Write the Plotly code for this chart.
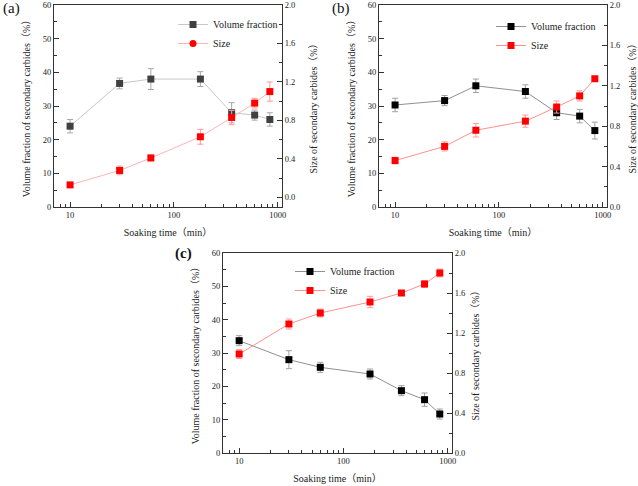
import math
import plotly.graph_objects as go

# ---------------- data ----------------
soak_time = [10, 30, 60, 180, 360, 600, 840]

vf_a = [24.0, 36.7, 38.0, 38.0, 28.0, 27.3, 26.0]
vf_a_err = [2.0, 1.6, 3.1, 2.2, 3.0, 1.5, 2.0]
size_a = [0.13, 0.28, 0.41, 0.63, 0.83, 0.98, 1.10]
size_a_err = [0.0, 0.045, 0.03, 0.077, 0.074, 0.05, 0.10]

vf_b = [30.3, 31.6, 36.0, 34.3, 28.0, 27.0, 22.7]
vf_b_err = [2.0, 1.5, 2.0, 2.0, 2.0, 2.0, 2.5]
size_b = [0.46, 0.60, 0.76, 0.85, 0.99, 1.10, 1.27]
size_b_err = [0.033, 0.045, 0.067, 0.06, 0.06, 0.05, 0.02]

vf_c = [33.7, 28.0, 25.7, 23.7, 18.7, 16.0, 11.7]
vf_c_err = [1.5, 2.7, 1.5, 1.5, 1.5, 2.0, 1.5]
size_c = [0.99, 1.29, 1.40, 1.51, 1.60, 1.69, 1.80]
size_c_err = [0.045, 0.05, 0.04, 0.057, 0.023, 0.033, 0.04]

panel_labels = ["(a)", "(b)", "(c)"]
legend_names = ["Volume fraction", "Size"]
x_title = "Soaking time（min）"
y_left_title = "Volume fraction of secondary carbides（%）"
y_right_title = "Size of secondary carbides（%）"

W, H = 638, 486
FONT = "Liberation Serif, Times New Roman, Noto Sans CJK SC, serif"


def fx(px):
    return px / W


def fy(py):
    return 1 - py / H


# panel geometry in pixels: (left, right, top, bottom)
panels = [
    dict(box=(54, 282, 5, 207), xa="x", ya="y", ya2="y2", legend="legend",
         vf=vf_a, vfe=vf_a_err, sz=size_a, sze=size_a_err, rr=[-0.1, 2.0],
         vf_mc="#404040", vf_lc="#c8c8c8", vf_ec="#a8a8a8",
         sz_mc="#ff0000", sz_lc="#ffb4b4", sz_ec="#ff9a9a", leg_sym="circle",
         leg=(173, 10), rstand=14),
    dict(box=(379, 607, 5, 207), xa="x2", ya="y3", ya2="y4", legend="legend2",
         vf=vf_b, vfe=vf_b_err, sz=size_b, sze=size_b_err, rr=[0, 2.0],
         vf_mc="#000000", vf_lc="#909090", vf_ec="#a0a0a0",
         sz_mc="#ff0000", sz_lc="#ff9090", sz_ec="#ff9a9a", leg_sym="square",
         leg=(491, 12), rstand=10),
    dict(box=(223, 452, 253, 453), xa="x3", ya="y5", ya2="y6", legend="legend3",
         vf=vf_c, vfe=vf_c_err, sz=size_c, sze=size_c_err, rr=[0, 2.0],
         vf_mc="#000000", vf_lc="#909090", vf_ec="#a0a0a0",
         sz_mc="#ff0000", sz_lc="#ff9090", sz_ec="#ff9a9a", leg_sym="square",
         leg=(290, 257), rstand=6),
]

fig = go.Figure()
layout = dict(
    width=W, height=H, margin=dict(l=0, r=0, t=0, b=0, autoexpand=False),
    paper_bgcolor="white", plot_bgcolor="white",
    font=dict(family=FONT, size=10, color="#222"),
    showlegend=True,
)

xr = [math.log10(7), math.log10(1100)]

for i, p in enumerate(panels):
    l, r, t, b = p["box"]
    xa, ya, ya2 = p["xa"], p["ya"], p["ya2"]
    xname = "xaxis" + xa[1:]
    yname = "yaxis" + ya[1:]
    y2name = "yaxis" + ya2[1:]

    # volume fraction
    fig.add_trace(go.Scatter(
        x=soak_time, y=p["vf"], mode="lines+markers", name=legend_names[0],
        xaxis=xa, yaxis=ya, legend=p["legend"],
        line=dict(color=p["vf_lc"], width=1),
        marker=dict(symbol="square", size=7, color=p["vf_mc"]),
        error_y=dict(type="data", array=p["vfe"], visible=True,
                     color=p["vf_ec"], thickness=1, width=3),
    ))
    # size
    fig.add_trace(go.Scatter(
        x=soak_time, y=p["sz"], mode="lines+markers", name=legend_names[1],
        xaxis=xa, yaxis=ya2, legend=p["legend"],
        showlegend=(p["leg_sym"] == "square"),
        line=dict(color=p["sz_lc"], width=1),
        marker=dict(symbol="square", size=7, color=p["sz_mc"]),
        error_y=dict(type="data", array=p["sze"], visible=True,
                     color=p["sz_ec"], thickness=1, width=3),
    ))
    if p["leg_sym"] != "square":
        fig.add_trace(go.Scatter(
            x=[None], y=[None], mode="lines+markers", name=legend_names[1],
            xaxis=xa, yaxis=ya2, legend=p["legend"],
            line=dict(color=p["sz_lc"], width=1),
            marker=dict(symbol="circle", size=7, color=p["sz_mc"]),
        ))

    layout[xname] = dict(
        type="log", range=xr, domain=[fx(l), fx(r)], anchor=ya,
        tickvals=[10, 100, 1000], ticktext=["10", "100", "1000"],
        ticks="inside", ticklen=5, tickwidth=1, tickcolor="#333",
        minor=dict(dtick="D1", ticks="inside", ticklen=3, tickcolor="#333"),
        showline=True, linecolor="#333", linewidth=1, mirror=True,
        showgrid=False, zeroline=False, automargin=False,
        ticklabeloverflow="allow",
        tickfont=dict(size=8.5),
        title=dict(text=x_title, font=dict(size=10), standoff=9),
    )
    layout[yname] = dict(
        range=[0, 60], domain=[fy(b), fy(t)], anchor=xa,
        dtick=10, tick0=0,
        ticks="inside", ticklen=5, tickwidth=1, tickcolor="#333",
        minor=dict(dtick=5, ticks="inside", ticklen=3, tickcolor="#333"),
        showline=True, linecolor="#333", linewidth=1,
        showgrid=False, zeroline=False, automargin=False,
        ticklabeloverflow="allow",
        tickfont=dict(size=8.5),
        title=dict(text=y_left_title, font=dict(size=10), standoff=10),
    )
    layout[y2name] = dict(
        range=p["rr"], overlaying=ya, side="right", anchor=xa,
        dtick=0.4, tick0=0, tickformat=".1f",
        ticks="inside", ticklen=5, tickwidth=1, tickcolor="#333",
        minor=dict(dtick=0.2, tick0=0, ticks="inside", ticklen=3, tickcolor="#333"),
        showline=True, linecolor="#333", linewidth=1,
        showgrid=False, zeroline=False, automargin=False,
        ticklabeloverflow="allow",
        tickfont=dict(size=8.5),
        title=dict(text=y_right_title, font=dict(size=10), standoff=p["rstand"]),
    )
    lx, ly = p["leg"]
    layout[p["legend"]] = dict(
        x=fx(lx), y=fy(ly), xanchor="left", yanchor="top",
        bgcolor="rgba(0,0,0,0)", borderwidth=0,
        font=dict(size=10, color="#222"),
        itemwidth=30, tracegroupgap=0,
    )

annos = []
label_pos = [(11, 9, False), (341, 9, False), (183, 254, True)]
for lab, (ax_, ay_, bold) in zip(panel_labels, label_pos):
    annos.append(dict(
        text=("<b>%s</b>" % lab) if bold else lab, xref="paper", yref="paper",
        x=fx(ax_), y=fy(ay_), xanchor="center", yanchor="middle",
        showarrow=False, font=dict(size=15, color="#111", family=FONT),
    ))
layout["annotations"] = annos

fig.update_layout(**layout)
fig.write_html(
    "out.html",
    config={"displayModeBar": False},
    post_script="document.body.style.margin='0';document.body.style.overflow='hidden';",
)
